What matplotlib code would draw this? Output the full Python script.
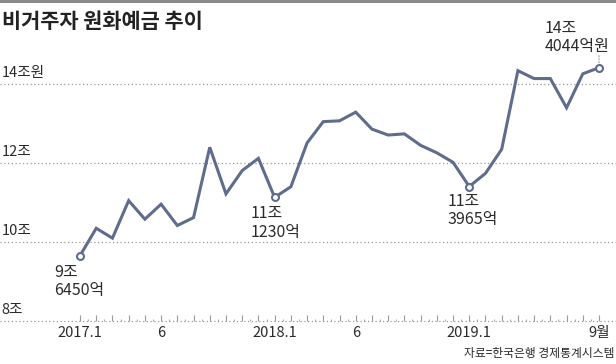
import matplotlib
matplotlib.use("Agg")
from matplotlib import pyplot as plt
import matplotlib.transforms as mtransforms

plt.rcParams['font.family'] = ['Noto Sans CJK KR', 'DejaVu Sans']

# monthly non-resident won deposits, 2017.1 ~ 2019.9 (unit: 조원)
values = [9.645, 10.34, 10.09, 11.04, 10.57, 10.95, 10.41, 10.61, 12.39, 11.21,
          11.80, 12.11, 11.123, 11.39, 12.50, 13.04, 13.06, 13.28, 12.85, 12.70,
          12.73, 12.44, 12.25, 12.01, 11.3965, 11.73, 12.34, 14.33, 14.13, 14.13,
          13.39, 14.25, 14.4044]
months = list(range(len(values)))

x_ticks = [0, 5, 12, 17, 24, 32]
x_tick_labels = ["2017.1", "6", "2018.1", "6", "2019.1", "9월"]
y_grid = [8, 10, 12, 14]
y_labels = ["8조", "10조", "12조", "14조원"]

# highlighted points: (index, label)
highlights = [(0, "9조\n6450억"), (12, "11조\n1230억"), (24, "11조\n3965억"), (32, "14조\n4044억원")]
highlight_offsets = {0: (-26, -8), 12: (-24, -8), 24: (-22, -6), 32: (-54, 48)}

LINE = "#5f6c8c"
TEXT = "#2b2b2b"
GRID = "#9a9a9a"

fig = plt.figure(figsize=(6.16, 3.64), dpi=100)
ax = fig.add_axes([0, 0, 1, 1])
ax.axis("off")

px_per_month = (599 - 80) / 32
px_per_unit = 39.5
ax.set_xlim(-80 / px_per_month, 32 + (616 - 599) / px_per_month)
ax.set_ylim(10 - (364 - 241.7) / px_per_unit, 10 + 241.7 / px_per_unit)

# grid lines + y labels
ylab_trans = mtransforms.offset_copy(ax.get_yaxis_transform(), fig=fig, x=0, y=4, units="dots")
for v, lab in zip(y_grid, y_labels):
    ax.axhline(v, color=GRID, lw=0.9, ls=(0, (1, 2)), zorder=1)
    ax.text(0.003, v, lab, transform=ylab_trans, ha="left", va="bottom",
            fontsize=10.5, color=TEXT)

# month ticks on the base line
tick_h = 6 / px_per_unit
ax.vlines(months, 8, 8 + tick_h, color=GRID, lw=0.8, zorder=1)
ax.vlines([m + 0.5 for m in months[:-1]], 8, 8 + 2 / px_per_unit, color=GRID, lw=0.6, zorder=1)

for m, lab in zip(x_ticks, x_tick_labels):
    ax.text(m, 1 - 333 / 364, lab, transform=ax.get_xaxis_transform(),
            ha="center", va="center", fontsize=10.5, color=TEXT)

ax.plot(months, values, color=LINE, lw=2.2, solid_joinstyle="miter", zorder=3)

for idx, lab in highlights:
    ax.plot(months[idx], values[idx], marker="o", ms=5, mfc="white", mec=LINE,
            mew=1.5, zorder=4)
    dx, dy = highlight_offsets[idx]
    ax.annotate(lab, xy=(months[idx], values[idx]), xytext=(dx, dy),
                textcoords="offset pixels", ha="left", va="top",
                fontsize=11.5, color=TEXT, linespacing=1.1)

# small dotted leader for the last point
ax.annotate("", xy=(months[-1], values[-1]), xytext=(0, 12), textcoords="offset pixels",
            arrowprops=dict(arrowstyle="-", color=GRID, lw=0.8, ls=":", shrinkA=0, shrinkB=3))

fig.text(0.003, 1 - 22 / 364, "비거주자 원화예금 추이", ha="left", va="center",
         fontsize=15, fontweight="bold", color="#222222")
fig.add_artist(plt.Rectangle((0, 1 - 3 / 364), 1, 3 / 364, transform=fig.transFigure,
                             color="#8a8a8a", lw=0))
fig.text(0.997, 1 - 353 / 364, "자료=한국은행 경제통계시스템", ha="right", va="center",
         fontsize=8.5, color=TEXT)

fig.savefig("out.png", dpi=100, facecolor="white")
